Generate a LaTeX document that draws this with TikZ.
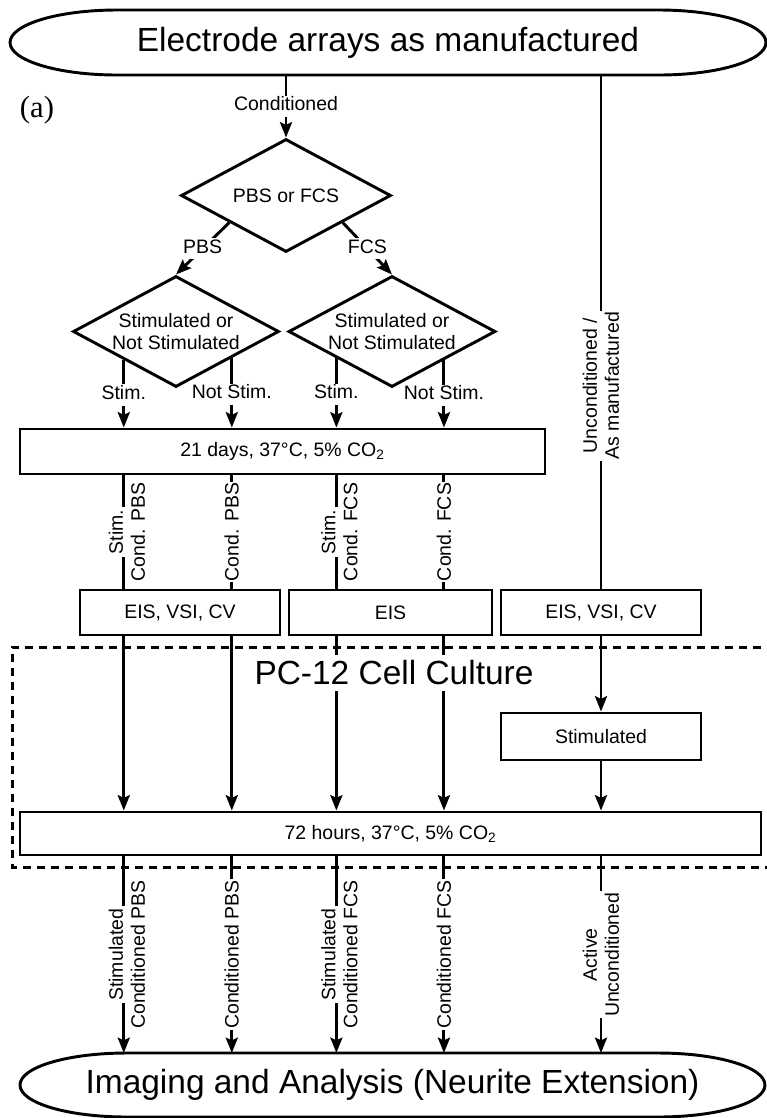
\documentclass[tikz,border=0pt]{standalone}
\usepackage{fontspec}
\setmainfont{Liberation Sans}
\newfontfamily\serifa{Liberation Serif}
\usetikzlibrary{shapes.geometric,arrows.meta,calc}
\newcommand{\fsmall}{\fontsize{14.6pt}{16.5pt}\selectfont}
\newcommand{\fbig}{\fontsize{25.1pt}{30pt}\selectfont}
\newcommand{\drawcapsule}[1]{%
\draw[ln] (#1.west) .. controls ($(#1.west)+(0,-18)$) and ($(#1.north west)+(48,0)$) .. ($(#1.north west)+(107,0)$)
 -- ($(#1.north east)+(-107,0)$) .. controls ($(#1.north east)+(-48,0)$) and ($(#1.east)+(0,-18)$) .. (#1.east)
 .. controls ($(#1.east)+(0,18)$) and ($(#1.south east)+(-48,0)$) .. ($(#1.south east)+(-107,0)$)
 -- ($(#1.south west)+(107,0)$) .. controls ($(#1.south west)+(48,0)$) and ($(#1.west)+(0,18)$) .. cycle;}
\begin{document}
\begin{tikzpicture}[x=0.75pt,y=-0.75pt,
 ln/.style={line width=2.2pt},
 arr/.style={ln,-{Stealth[length=11.5pt,width=9pt,inset=2pt]}},
 boxnode/.style={draw,line width=2.2pt,rectangle,inner sep=0pt,font=\fsmall,minimum height=33.75pt},
 dianode/.style={draw,line width=2.2pt,diamond,inner sep=0pt},
 capnode/.style={draw=none,rectangle,inner sep=0pt,outer sep=0pt,font=\fbig},
 lab/.style={font=\fsmall,fill=white,inner xsep=1pt,inner ysep=2pt,text height=0.95em,text depth=0.25em},
 vlab/.style={font=\fsmall,rotate=90,inner sep=1pt},
 vfill/.style={vlab,fill=white},
 cultureframe/.style={line width=2.25pt,dash pattern=on 6.25pt off 4.25pt}]

\useasboundingbox (0,0) rectangle (767,1118);

% terminal capsules
\node[capnode,minimum width=567pt,minimum height=48.75pt] (T) at (388,42.5) {Electrode arrays as manufactured};
\node[capnode,minimum width=558.75pt,minimum height=48pt] (B) at (392.5,1085) {Imaging and Analysis (Neurite Extension)};
\drawcapsule{T}
\drawcapsule{B}

\node[font=\serifa\fontsize{23pt}{27pt}\selectfont] (lbl) at (37,110) {(a)};

% decisions
\node[dianode,minimum width=157.5pt,minimum height=84.75pt] (d1) at (286,195.5) {};
\node[font=\fsmall] (d1t) at (d1) {PBS or FCS};
\node[dianode,minimum width=154.5pt,minimum height=83.25pt] (d2) at (176,331.5) {};
\node[font=\fsmall,align=center] (d2t) at (d2) {Stimulated or\\Not Stimulated};
\node[dianode,minimum width=155.25pt,minimum height=83.25pt] (d3) at (392,331.5) {};
\node[font=\fsmall,align=center] (d3t) at (d3) {Stimulated or\\Not Stimulated};

% boxes
\node[boxnode,minimum width=393.75pt] (b21) at (282.5,451.5) {21 days, 37°C, 5\% CO\textsubscript{2}};
\node[boxnode,minimum width=150pt] (e1) at (180,612.5) {EIS, VSI, CV};
\node[boxnode,minimum width=152.25pt] (e2) at (390.5,612.5) {EIS};
\node[boxnode,minimum width=150pt] (e3) at (601,612.5) {EIS, VSI, CV};
\node[boxnode,minimum width=150pt,minimum height=35.25pt] (st) at (601,736.5) {Stimulated};
\node[boxnode,minimum width=555.75pt,minimum height=32.25pt] (b72) at (390.5,833.5) {72 hours, 37°C, 5\% CO\textsubscript{2}};

% columns
\coordinate (s1) at ($(d2.west)!0.5!(d2.south)$);
\coordinate (s2) at ($(d2.east)!0.466!(d2.south)$);
\coordinate (s3) at ($(d3.west)!0.47!(d3.south)$);
\coordinate (s4) at ($(d3.east)!0.505!(d3.south)$);
\coordinate (s5) at (T.south -| e3.north);

% top part
\draw[arr] (T.south -| d1.north) -- node[lab]{Conditioned} (d1.north);
\draw[arr] ($(d1.west)!0.467!(d1.south)$) -- node[lab]{PBS} (d2.north);
\draw[arr] ($(d1.east)!0.467!(d1.south)$) -- node[lab]{FCS} (d3.north);
\draw[arr] (s1) -- node[lab,pos=0.52]{Stim.} (s1 |- b21.north);
\draw[arr] (s2) -- node[lab,pos=0.52]{Not Stim.} (s2 |- b21.north);
\draw[arr] (s3) -- node[lab,pos=0.52]{Stim.} (s3 |- b21.north);
\draw[arr] (s4) -- node[lab,pos=0.52]{Not Stim.} (s4 |- b21.north);

% 21 days -> measurements
\draw[ln] (s1 |- b21.south) -- coordinate (m1) (s1 |- e1.north);
\node[vfill,anchor=south,inner sep=2pt] (m1a) at ([xshift=1.6pt]m1) {Stim.};
\node[vlab,anchor=north] (m1b) at ([xshift=4pt]m1) {Cond. PBS};
\draw[ln] (s2 |- b21.south) -- node[vfill]{Cond. PBS} (s2 |- e1.north);
\draw[ln] (s3 |- b21.south) -- coordinate (m3) (s3 |- e2.north);
\node[vfill,anchor=south,inner sep=2pt] (m3a) at ([xshift=1.6pt]m3) {Stim.};
\node[vlab,anchor=north] (m3b) at ([xshift=4pt]m3) {Cond. FCS};
\draw[ln] (s4 |- b21.south) -- node[vfill]{Cond. FCS} (s4 |- e2.north);
\draw[ln] (s5) -- node[vfill,align=center,pos=0.61,xshift=2pt]{Unconditioned /\\As manufactured} (e3.north);

% measurements -> 72 hours
\draw[arr] (s1 |- e1.south) -- (s1 |- b72.north);
\draw[arr] (s2 |- e1.south) -- (s2 |- b72.north);
\draw[arr] (s3 |- e2.south) -- (s3 |- b72.north);
\draw[arr] (s4 |- e2.south) -- (s4 |- b72.north);
\draw[arr] (e3.south) -- (st.north);
\draw[arr] (st.south) -- (b72.north -| st.south);

% culture frame
\draw[cultureframe] (775,647) -- (12,647) -- (12,867) -- (775,867);
\node[font=\fbig,fill=white,inner sep=4pt] (pc) at (394,673) {PC-12 Cell Culture};

% 72 hours -> imaging
\draw[arr] (s1 |- b72.south) -- coordinate (n1) (s1 |- B.north);
\node[vfill,anchor=south,inner sep=2pt] (n1a) at ([xshift=1.6pt]n1) {Stimulated};
\node[vlab,anchor=north] (n1b) at ([xshift=4pt]n1) {Conditioned PBS};
\draw[arr] (s2 |- b72.south) -- node[vfill]{Conditioned PBS} (s2 |- B.north);
\draw[arr] (s3 |- b72.south) -- coordinate (n3) (s3 |- B.north);
\node[vfill,anchor=south,inner sep=2pt] (n3a) at ([xshift=1.6pt]n3) {Stimulated};
\node[vlab,anchor=north] (n3b) at ([xshift=4pt]n3) {Conditioned FCS};
\draw[arr] (s4 |- b72.south) -- node[vfill]{Conditioned FCS} (s4 |- B.north);
\draw[arr] (e3.south |- b72.south) -- node[vfill,align=center]{Active\\Unconditioned} (e3.south |- B.north);
\end{tikzpicture}
\end{document}
